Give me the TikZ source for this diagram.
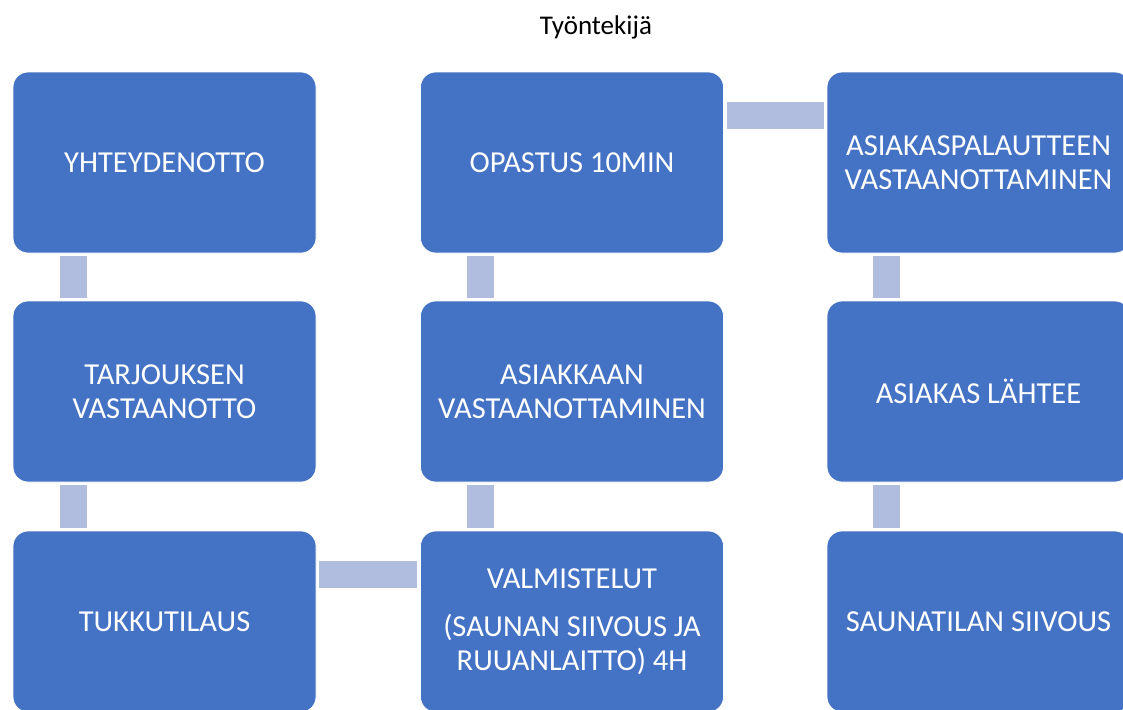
\documentclass[tikz,border=0pt]{standalone}
\usepackage{fontspec}
\setmainfont{Carlito}
\definecolor{boxblue}{HTML}{4472C4}
\definecolor{connblue}{HTML}{B0BDDF}
\tikzset{
  stepbox/.style={draw=white, line width=0.8pt, fill=boxblue, rounded corners=15pt,
    minimum width=303pt, minimum height=181pt, inner sep=0pt,
    text=white, align=center, font=\fontsize{30.5}{34}\selectfont},
  conn/.style={draw=connblue, line width=27pt, line cap=butt},
}
\begin{document}
\begin{tikzpicture}[x=1pt,y=-1pt]
\useasboundingbox (0,0) rectangle (1123,709);
\node[font=\fontsize{27}{32}\selectfont] (title) at (596,27) {Työntekijä};
\node[stepbox] (a1) at (164.5,162.5) {YHTEYDENOTTO};
\node[stepbox] (a2) at (164.5,391.5) {TARJOUKSEN\\VASTAANOTTO};
\node[stepbox] (a3) at (164.5,621.5) {TUKKUTILAUS};
\node[stepbox] (b3) at (572,621.5) {VALMISTELUT\\[14pt](SAUNAN SIIVOUS JA\\RUUANLAITTO) 4H};
\node[stepbox] (b2) at (572,391.5) {ASIAKKAAN\\VASTAANOTTAMINEN};
\node[stepbox] (b1) at (572,162.5) {OPASTUS 10MIN};
\node[stepbox] (c1) at (978.5,162.5) {ASIAKASPALAUTTEEN\\VASTAANOTTAMINEN};
\node[stepbox] (c2) at (978.5,391.5) {ASIAKAS LÄHTEE};
\node[stepbox] (c3) at (978.5,621.5) {SAUNATILAN SIIVOUS};
\draw[conn] ([shift={(61,3)}]a1.south west) -- ([shift={(61,-3)}]a2.north west);
\draw[conn] ([shift={(61,3)}]a2.south west) -- ([shift={(61,-3)}]a3.north west);
\draw[conn] ([shift={(3,44)}]a3.north east) -- ([shift={(-3,44)}]b3.north west);
\draw[conn] ([shift={(60,-3)}]b3.north west) -- ([shift={(60,3)}]b2.south west);
\draw[conn] ([shift={(60,-3)}]b2.north west) -- ([shift={(60,3)}]b1.south west);
\draw[conn] ([shift={(3,44)}]b1.north east) -- ([shift={(-3,44)}]c1.north west);
\draw[conn] ([shift={(60,3)}]c1.south west) -- ([shift={(60,-3)}]c2.north west);
\draw[conn] ([shift={(60,3)}]c2.south west) -- ([shift={(60,-3)}]c3.north west);
\end{tikzpicture}
\end{document}
